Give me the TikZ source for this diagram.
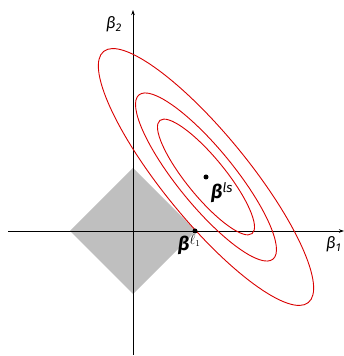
\documentclass[tikz,border=0pt]{standalone}
\usepackage{fontspec}
\newfontfamily\gr{Fira Sans}
\usetikzlibrary{arrows.meta}
\begin{document}
\begin{tikzpicture}[x=1pt,y=1pt,
  axis/.style={line width=0.7pt, -{Stealth[length=5pt,width=3.5pt]}},
  contour/.style={draw=red!85!black, line width=0.9pt},
  dotmark/.style={circle, fill=black, inner sep=0pt, minimum size=5pt},
  lbl/.style={font=\gr\itshape\fontsize{16}{16}\selectfont, inner sep=0pt},
  blbl/.style={font=\gr\bfseries\itshape\fontsize{19}{19}\selectfont, inner sep=0pt}]
\useasboundingbox (0,0) rectangle (344,356);
\coordinate (O) at (133,125);
\coordinate (C) at (206,179);
% diamond
\fill[black!25] (133,188) -- (196,125) -- (133,62) -- (70,125) -- cycle;
% axes
\coordinate (xs) at (8,125);
\coordinate (xe) at (344,125);
\coordinate (ys) at (133,1);
\coordinate (ye) at (133,346);
\draw[axis] (xs) -- (xe);
\draw[axis] (ys) -- (ye);
% contours
\draw[contour, rotate around={-50.8:(C)}] (C) ellipse [x radius=162pt, y radius=42.8pt];
\draw[contour, rotate around={-50.8:(C)}] (C) ellipse [x radius=106pt, y radius=28.2pt];
\draw[contour, rotate around={-50.8:(C)}] (C) ellipse [x radius=73pt, y radius=19.4pt];
% points
\node[dotmark] (ls) at (C) {};
\node[dotmark] (l1) at (195,125) {};
% labels
\node[lbl, anchor=base west] (b2) at (106,327) {β\textsubscript{2}};
\node[lbl, anchor=base west] (b1) at (326,107) {β\textsubscript{1}};
\node[blbl, anchor=base west] (bls) at (211,157) {β\textsuperscript{\mdseries\itshape ls}};
\node[blbl, anchor=base west] (bl1) at (178,105) {β\textsuperscript{$\ell_1$}};
\end{tikzpicture}
\end{document}
